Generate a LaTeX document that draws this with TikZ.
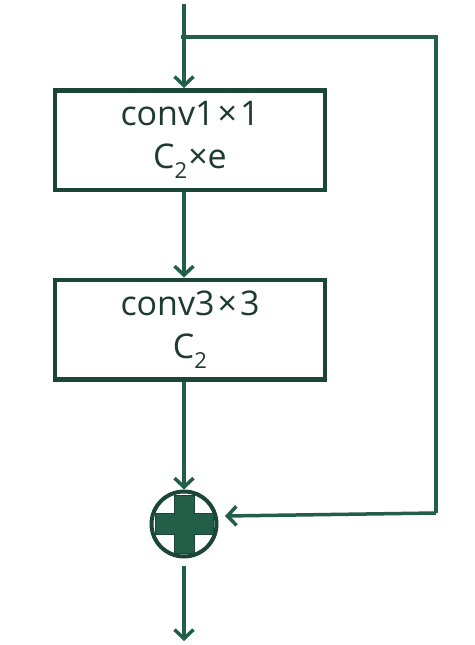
\documentclass[tikz,border=0pt]{standalone}
\usepackage{fontspec}
\setmainfont{Open Sans}
\usetikzlibrary{arrows.meta}
\definecolor{lineg}{HTML}{235E49}
\definecolor{boxg}{HTML}{1B4636}
\definecolor{textg}{HTML}{1D3B30}
\newcommand{\subtwo}{\raisebox{-0.28em}{\fontsize{22}{22}\selectfont 2}}
\begin{document}
\begin{tikzpicture}[x=1pt,y=-1pt,
  conn/.style={draw=lineg,line width=3.5pt},
  arr/.style={conn,-{Straight Barb[length=9pt,width=19pt]}},
  opbox/.style={draw=boxg,line width=4.5pt,fill=white,minimum width=270pt,minimum height=99.5pt,
    align=center,text=textg,font=\fontsize{34}{43}\selectfont,inner sep=0pt},
  bar/.style={fill=lineg,draw=boxg,line width=1pt,inner sep=0pt}]
\useasboundingbox (0,0) rectangle (474,645);
\coordinate (top) at (184,4);
\coordinate (split) at (184,37);
\coordinate (splitl) at (181,37);
\coordinate (rt) at (436,37);
\coordinate (rb) at (436,513);
\coordinate (out) at (184,641);
\node[opbox] (box1) at (190,140) {conv1\kern3pt×\kern3pt1\\C\subtwo\kern1pt×e};
\node[opbox] (box2) at (190,329.5) {conv3\kern3pt×\kern3pt3\\C\subtwo};
\node[circle,draw=boxg,line width=4pt,fill=white,minimum size=65pt,inner sep=0pt] (sum) at (184,524) {};
\node[bar,minimum width=58pt,minimum height=21pt] (hbar) at (sum) {};
\node[bar,minimum width=20pt,minimum height=58pt] (vbar) at (sum) {};
\node[bar,draw=none,minimum width=56pt,minimum height=19pt] at (sum) {};
\draw[arr] (top) -- (top |- box1.north);
\draw[arr] (top |- box1.south) -- (top |- box2.north);
\draw[arr] (top |- box2.south) -- (sum.north);
\draw[conn] (splitl) -- (rt) -- (rb);
\draw[arr] (rb) -- ([xshift=6.5pt,yshift=8pt]sum.east);
\draw[arr,shorten <=7pt] (sum.south) -- (out);
\end{tikzpicture}
\end{document}
